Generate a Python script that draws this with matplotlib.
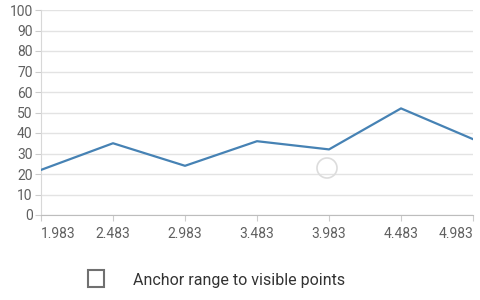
from matplotlib import pyplot as plt
from matplotlib.patches import Rectangle, Ellipse

x_values = [1.983, 2.483, 2.983, 3.483, 3.983, 4.483, 4.983]
y_values = [22, 35, 24, 36, 32, 52, 37]
y_ticks = [0, 10, 20, 30, 40, 50, 60, 70, 80, 90, 100]
x_tick_labels = ["1.983", "2.483", "2.983", "3.483", "3.983", "4.483", "4.983"]

plt.rcParams['font.family'] = ['Roboto', 'DejaVu Sans']

fig = plt.figure(figsize=(4.8, 3.0), dpi=100)
ax = fig.add_axes([41 / 480, 85 / 300, 432 / 480, 205 / 300])

ax.plot(x_values, y_values, color='#4682b4', linewidth=1.6, zorder=3)

ax.set_xlim(1.983, 4.983)
ax.set_ylim(0, 100)
ax.set_yticks(y_ticks)
ax.set_xticks(x_values)
ax.set_xticklabels(x_tick_labels)

# horizontal grid only
ax.yaxis.grid(True, color='#e3e3e3', linewidth=1)
ax.set_axisbelow(True)

for side in ['top', 'right']:
    ax.spines[side].set_visible(False)
ax.spines['left'].set_color('#d8d8d8')
ax.spines['bottom'].set_color('#bdbdbd')

ax.tick_params(axis='y', colors='#cccccc', labelcolor='#606060',
               labelsize=10, length=4, pad=2)
ax.tick_params(axis='x', colors='#cccccc', labelcolor='#606060',
               labelsize=10, length=4, pad=5)

# first/last labels are kept inside the plot width
xlabels = ax.get_xticklabels()
xlabels[0].set_horizontalalignment('left')
xlabels[-1].set_horizontalalignment('right')

# faint touch indicator
fig.patches.append(Ellipse((327 / 480, 1 - 168 / 300), 20 / 480, 20 / 300,
                           transform=fig.transFigure, fill=False,
                           edgecolor='#dcdcdc', linewidth=1.2))

# checkbox + label
fig.patches.append(Rectangle((88 / 480, 1 - 287 / 300), 16 / 480, 17 / 300,
                             transform=fig.transFigure, fill=False,
                             edgecolor='#707070', linewidth=1.5))
fig.text(133 / 480, 1 - 280 / 300, "Anchor range to visible points",
         fontsize=11.5, color='#333333', va='center', ha='left')

plt.savefig("out.png", dpi=100)
